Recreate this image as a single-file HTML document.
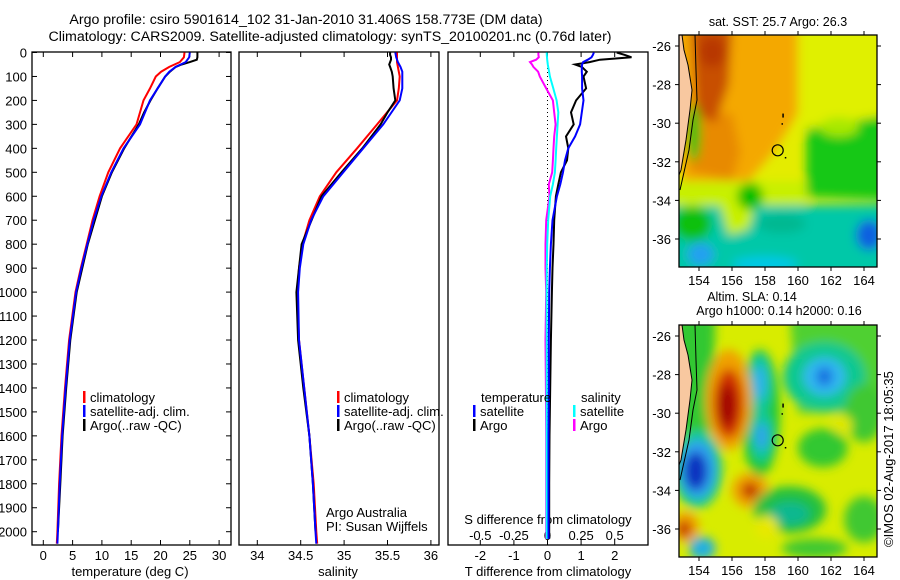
<!DOCTYPE html>
<html><head><meta charset="utf-8"><style>
html,body{margin:0;padding:0;background:#fff;}
svg{display:block;font-family:"Liberation Sans",sans-serif;}
text{font-size:13px;fill:#000;}
</style></head><body>
<svg id="fig" width="900" height="580" viewBox="0 0 900 580" xmlns="http://www.w3.org/2000/svg">
<defs>
<clipPath id="c1"><rect x="32" y="52" width="199" height="493"/></clipPath>
<clipPath id="c2"><rect x="239" y="52" width="200" height="493"/></clipPath>
<clipPath id="c3"><rect x="448" y="52" width="200" height="493"/></clipPath>
<clipPath id="m1"><rect x="679" y="35" width="198" height="232"/></clipPath>
<clipPath id="m2"><rect x="679" y="325" width="198" height="232"/></clipPath>
<filter id="bl" x="-20%" y="-20%" width="140%" height="140%"><feGaussianBlur stdDeviation="5"/></filter>
</defs>
<text x="306" y="24" text-anchor="middle" style="font-size:14.2px">Argo profile: csiro 5901614_102 31-Jan-2010 31.406S 158.773E (DM data)</text>
<text x="330" y="41" text-anchor="middle" style="font-size:14.2px">Climatology: CARS2009. Satellite-adjusted climatology: synTS_20100201.nc (0.76d later)</text>
<g id="g1"></g>
<g id="g2"></g>
<g id="g3"></g>
<g id="gm1"></g>
<g id="gm2"></g>
<text transform="translate(893,547) rotate(-90)" style="font-size:13px">©IMOS 02-Aug-2017 18:05:35</text>
</svg>
<script>
const depthC=[0,20,40,60,80,100,150,200,300,400,500,600,700,800,900,1000,1200,1400,1600,1800,2000,2050];
const tClim=[24.1,24.0,23.3,21.5,20.1,19.2,18.2,17.1,15.9,13.1,11.1,9.6,8.4,7.4,6.4,5.5,4.4,3.7,3.1,2.7,2.4,2.3];
const tSat=[25.0,24.9,24.3,22.6,21.5,20.8,19.5,18.2,16.5,13.7,11.6,9.9,8.6,7.5,6.5,5.6,4.5,3.8,3.2,2.8,2.5,2.4];
const sClim=[35.61,35.61,35.61,35.62,35.63,35.64,35.63,35.61,35.38,35.15,34.91,34.72,34.60,34.52,34.48,34.46,34.48,34.54,34.60,34.65,34.68,34.69];
const sSat=[35.59,35.60,35.62,35.65,35.67,35.67,35.67,35.64,35.45,35.22,34.99,34.76,34.62,34.53,34.49,34.47,34.48,34.54,34.60,34.64,34.67,34.68];
const depthA=[0,10,20,30,40,50,60,80,100,150,200,250,300,400,500,600,800,1000,1200,1400,1600,1800,2000];
const tArgo=[26.3,26.3,26.3,26.2,25.0,23.6,22.6,21.6,20.8,19.5,18.3,17.2,16.3,13.8,11.7,10.0,7.6,5.7,4.6,3.9,3.3,2.9,2.5];
const sArgo=[35.53,35.53,35.54,35.54,35.53,35.52,35.53,35.55,35.56,35.57,35.59,35.50,35.42,35.21,34.97,34.74,34.51,34.45,34.47,34.53,34.60,34.64,34.67];
const depthD=[0,10,20,30,40,50,60,80,100,150,200,250,300,350,400,450,500,550,600,700,800,900,1000,1200,1400,1600,1800,2000,2030];
const tdSat=[1.38,1.35,1.31,1.2,1.06,1.03,1.02,1.02,1.03,1.03,1.07,1.02,0.97,0.82,0.62,0.52,0.46,0.38,0.28,0.15,0.10,0.07,0.05,0.04,0.04,0.03,0.03,0.03,0.03];
const tdArgo=[2.06,2.3,2.5,1.56,1.25,0.82,1.02,1.17,1.07,1.15,0.85,0.70,0.78,0.55,0.62,0.58,0.40,0.32,0.25,0.20,0.18,0.15,0.13,0.10,0.08,0.06,0.05,0.05,0.05];
const sdSat=[-0.006,-0.005,-0.004,-0.002,0,0.002,0.005,0.012,0.018,0.043,0.068,0.08,0.075,0.07,0.065,0.06,0.055,0.04,0.02,0.005,-0.002,-0.005,-0.006,-0.006,-0.006,-0.006,-0.006,-0.006,-0.006];
const sdArgo=[-0.068,-0.068,-0.065,-0.085,-0.13,-0.115,-0.105,-0.07,-0.057,-0.01,0.04,0.05,0.06,0.05,0.045,0.04,0.035,0.01,0.015,-0.01,-0.015,-0.015,-0.01,-0.015,-0.012,-0.01,-0.01,-0.01,-0.01];
const depthTicks=[0,100,200,300,400,500,600,700,800,900,1000,1100,1200,1300,1400,1500,1600,1700,1800,1900,2000];
const tTicks=[0,5,10,15,20,25,30];
const sTicks=[34,34.5,35,35.5,36];
const sTickLabels=['34','34.5','35','35.5','36'];
const tdTicks=[-2,-1,0,1,2];
const sdTicks=[-0.5,-0.25,0,0.25,0.5];
const sdTickLabels=['-0.5','-0.25','0','0.25','0.5'];
const lonTicks=[154,156,158,160,162,164];
const latTicks=[-26,-28,-30,-32,-34,-36];

const NS='http://www.w3.org/2000/svg';
const yD=d=>52.5+d*0.2396;
const xT=t=>43.3+t*5.86;
const xS=s=>257.3+(s-34)*86.8;
const xTd=v=>547.5+v*33.6;
const xSd=v=>547.5+v*134.4;
const lonX=l=>699+(l-154)*16.5;
const latY=(l,top)=>top+11+(-26-l)*19.3;

function mk(tag,attrs,parent){const e=document.createElementNS(NS,tag);for(const k in attrs)e.setAttribute(k,attrs[k]);parent.appendChild(e);return e;}
function txt(s,x,y,anchor,parent,size){const e=mk('text',{x:x,y:y,'text-anchor':anchor||'start'},parent);if(size)e.style.fontSize=size+'px';e.textContent=s;return e;}
function line(xs,ys,color,parent,w){const pts=xs.map((x,i)=>x.toFixed(1)+','+ys[i].toFixed(1)).join(' ');return mk('polyline',{points:pts,fill:'none',stroke:color,'stroke-width':w||2},parent);}

const g1=document.getElementById('g1'),g2=document.getElementById('g2'),g3=document.getElementById('g3');
[[g1,32,199],[g2,239,200],[g3,448,200]].forEach(([g,x,w])=>{
  const r=mk('rect',{x:x,y:52,width:w,height:493,fill:'none',stroke:'#000','stroke-width':1.3},g);
  
  
});
depthTicks.forEach(d=>{
  const y=yD(d);
  mk('line',{x1:32,x2:37,y1:y,y2:y,stroke:'#000'},g1);
  mk('line',{x1:226,x2:231,y1:y,y2:y,stroke:'#000'},g1);
  const t=txt(String(d),27,y+5,'end',g1);
  
  
});
function xticks(vals,labels,fx,g,ly){vals.forEach((v,i)=>{const x=fx(v);
  mk('line',{x1:x,x2:x,y1:52,y2:57,stroke:'#000'},g);
  mk('line',{x1:x,x2:x,y1:540,y2:545,stroke:'#000'},g);
  const t=txt(labels[i],x,ly,'middle',g);
  
  });}
xticks(tTicks,tTicks.map(String),xT,g1,560);
xticks(sTicks,sTickLabels,xS,g2,560);
xticks(tdTicks,tdTicks.map(String),xTd,g3,560);
sdTicks.forEach((v,i)=>{const t=txt(sdTickLabels[i],xSd(v),540,'middle',g3);
  
  });
let a;
a=txt('temperature (deg C)',130,576,'middle',g1);
a=txt('salinity',338,576,'middle',g2);
a=txt('T difference from climatology',548,576,'middle',g3);
a=txt('S difference from climatology',548,524,'middle',g3);

const p1=mk('g',{'clip-path':'url(#c1)'},g1);
let s;
s=line(tClim.map(xT),depthC.map(yD),'#f00',p1);
s=line(tArgo.map(xT),depthA.map(yD),'#000',p1);
s=line(tSat.map(xT),depthC.map(yD),'#00f',p1);
const p2=mk('g',{'clip-path':'url(#c2)'},g2);
s=line(sClim.map(xS),depthC.map(yD),'#f00',p2);
s=line(sArgo.map(xS),depthA.map(yD),'#000',p2);
s=line(sSat.map(xS),depthC.map(yD),'#00f',p2);
const p3=mk('g',{'clip-path':'url(#c3)'},g3);
s=mk('line',{x1:xTd(0),x2:xTd(0),y1:52,y2:440,stroke:'#000','stroke-dasharray':'1,3'},p3);
s=line(sdArgo.map(xSd),depthD.map(yD),'#f0f',p3);
s=line(sdSat.map(xSd),depthD.map(yD),'#0ff',p3);
s=line(tdArgo.map(xTd),depthD.map(yD),'#000',p3);
s=line(tdSat.map(xTd),depthD.map(yD),'#00f',p3);

function legend(g,x,y,color,label){const r=mk('rect',{x:x,y:y-11,width:2.5,height:12,fill:color},g);
  
  const t=txt(label,x+7,y,'start',g);}
legend(g1,83,402,'#f00','climatology');legend(g1,83,416,'#00f','satellite-adj. clim.');legend(g1,83,430,'#000','Argo(..raw -QC)');
legend(g2,337,402,'#f00','climatology');legend(g2,337,416,'#00f','satellite-adj. clim.');legend(g2,337,430,'#000','Argo(..raw -QC)');
a=txt('Argo Australia',326,517,'start',g2);
a=txt('PI: Susan Wijffels',326,531,'start',g2);
a=txt('temperature',481,402,'start',g3);
a=txt('salinity',581,402,'start',g3);
legend(g3,473,416,'#00f','satellite');legend(g3,473,430,'#000','Argo');
legend(g3,573,416,'#0ff','satellite');legend(g3,573,430,'#f0f','Argo');

function drawMap(gid,top,clip,bg,blobs,titles){
  const g=document.getElementById(gid);
  const inner=mk('g',{'clip-path':'url('+clip+')'},g);
  mk('rect',{x:679,y:top,width:198,height:232,fill:bg},inner);
  const bg2=mk('g',{filter:'url(#bl)'},inner);
  blobs.forEach(b=>{
    if(b[0]==='e'){const e=mk('ellipse',{cx:lonX(b[1]),cy:latY(b[2],top),rx:b[3]*16.5,ry:b[4]*19.3,fill:b[5]},bg2);
      }
    else{const pts=b[1].map(p=>lonX(p[0]).toFixed(1)+','+latY(p[1],top).toFixed(1)).join(' ');
      const e=mk('polygon',{points:pts,fill:b[2]},bg2);
      }
  });
  const landX=[682,684,688,692,690,686,681,679,679];
  const landY=[0,15,30,55,75,105,135,140,0];
  const pts=landX.map((x,i)=>x+','+(top+landY[i])).join(' ')+' 679,'+top;
  const land=mk('polygon',{points:pts,fill:'#f8c8a0',stroke:'#000','stroke-width':1},inner);
  
  const shX=[695,696,697,693,689,680],shY=[0,35,65,85,115,155];
  const sh=mk('polyline',{points:shX.map((x,i)=>x+','+(top+shY[i])).join(' '),fill:'none',stroke:'#000','stroke-width':1},inner);
  
  const c=mk('circle',{cx:lonX(158.77),cy:latY(-31.406,top),r:5.5,fill:'none',stroke:'#000','stroke-width':1.2},inner);
  
  mk('rect',{x:lonX(159.05),y:latY(-29.5,top),width:1.5,height:4,fill:'#000'},inner);
  mk('rect',{x:lonX(159.0),y:latY(-30.0,top),width:1.5,height:1.5,fill:'#000'},inner);
  mk('rect',{x:lonX(159.2),y:latY(-31.75,top),width:1.5,height:1.5,fill:'#000'},inner);
  const fr=mk('rect',{x:679,y:top,width:198,height:232,fill:'none',stroke:'#000','stroke-width':1.3},g);
  
  lonTicks.forEach(l=>{const x=lonX(l);
    mk('line',{x1:x,x2:x,y1:top-4,y2:top,stroke:'#000'},g);
    mk('line',{x1:x,x2:x,y1:top+232,y2:top+236,stroke:'#000'},g);
    const t=txt(String(l),x,top+250,'middle',g);});
  latTicks.forEach(l=>{const y=latY(l,top);
    mk('line',{x1:877,x2:881,y1:y,y2:y,stroke:'#000'},g);
    mk('line',{x1:675,x2:679,y1:y,y2:y,stroke:'#000'},g);
    const t=txt(String(l),671,y+5,'end',g);});
  titles.forEach(tt=>{const t=txt(tt[0],tt[1],tt[2],'middle',g,12.5);});
}
drawMap('gm1',35,'#m1','#e4ec00',[
  ['p',[[152,-25],[160,-25],[160,-29.5],[158.5,-31.5],[157,-33],[155,-33],[153,-33]], '#f4a800'],
  ['p',[[160,-25],[166,-25],[166,-29.5],[160,-30.5]], '#e0f000'],
  ['p',[[153,-29.5],[156,-29.5],[156.5,-31.5],[156,-33],[153.5,-32.5]], '#e88a00'],
  ['p',[[153.5,-25],[156,-25],[155.8,-28],[155,-30],[153.8,-29.5]], '#c85000'],
  ['e',154.8,-26.3,0.8,0.8,'#b83800'],
  ['p',[[160.5,-30.3],[166,-29.5],[166,-34],[160.5,-33.8]], '#18c818'],
  ['e',162.5,-30.2,1.2,0.5,'#a8e800'],
  ['p',[[152,-33],[160.5,-33],[160.5,-34.2],[152,-34.5]], '#c8f000'],
  ['p',[[152,-34.3],[166,-34.2],[166,-38],[152,-38]], '#00c8a8'],
  ['p',[[155,-33.5],[157.5,-34],[157,-35.5],[155.8,-35.8]], '#c8f000'],
  ['e',157.1,-33.8,0.8,0.7,'#00c000'],
  ['e',153.6,-35.2,1.2,0.9,'#10c010'],
  ['e',159,-35.2,1.5,0.5,'#00b890'],
  ['e',154.1,-36.8,0.8,0.6,'#20a0f0'],
  ['e',164.3,-35.8,0.8,0.8,'#1060e0'],
  ['e',158,-37.3,2,0.4,'#00c8e8'],
  ['e',153.7,-30.5,0.4,1.5,'#10c010']
],[['sat. SST: 25.7 Argo: 26.3',778,26]]);
drawMap('gm2',325,'#m2','#d8ec00',[
  ['p',[[152,-25],[155,-25],[154.8,-31],[152,-31]], '#30c830'],
  ['p',[[159.5,-25],[166,-25],[166,-30],[160,-30]], '#50d030'],
  ['e',161.6,-28.1,2.5,1.8,'#10c890'],
  ['e',161.6,-28.1,1.3,1.0,'#30b8f0'],
  ['e',161.6,-28.1,0.5,0.5,'#1870e0'],
  ['e',157.7,-30,1.2,3.3,'#20c830'],
  ['e',157.7,-28.5,0.7,1.6,'#10c8a0'],
  ['e',157.8,-31.2,0.7,1.3,'#10c8a0'],
  ['e',157.7,-28.4,0.35,0.9,'#30b0f0'],
  ['e',157.8,-31.2,0.35,0.7,'#30a0f0'],
  ['e',155.8,-29.3,1.4,2.6,'#f0a000'],
  ['e',155.8,-29.5,0.9,1.8,'#d03000'],
  ['e',155.7,-29.6,0.5,1.1,'#a00000'],
  ['e',153.9,-32.9,1.5,2.0,'#10c8a0'],
  ['e',153.9,-32.9,1.1,1.5,'#30a0f0'],
  ['e',153.8,-33,0.7,1.0,'#0830c0'],
  ['e',157.1,-34,1.1,0.9,'#f0a000'],
  ['e',157.1,-34,0.5,0.4,'#c02800'],
  ['e',159.5,-35,2.2,1.2,'#20c040'],
  ['e',159.5,-35.2,1.2,0.6,'#10b890'],
  ['e',158.1,-35.9,0.7,0.6,'#e8e800'],
  ['e',153.2,-35.9,0.8,0.8,'#f0a000'],
  ['e',153.1,-36,0.4,0.4,'#c02000'],
  ['e',154.2,-37,0.8,0.6,'#20b0e0'],
  ['e',161.5,-31.8,1.5,1.0,'#30c830'],
  ['e',164,-30,1.2,1.5,'#40c830'],
  ['e',162.7,-30.6,0.6,0.5,'#e0e800'],
  ['e',164,-35.5,1.2,1.2,'#40c830'],
  ['e',161,-37,2,0.5,'#40c830']
],[['Altim. SLA: 0.14',752,301],['Argo h1000: 0.14 h2000: 0.16',779,315]]);
</script>
</body></html>
